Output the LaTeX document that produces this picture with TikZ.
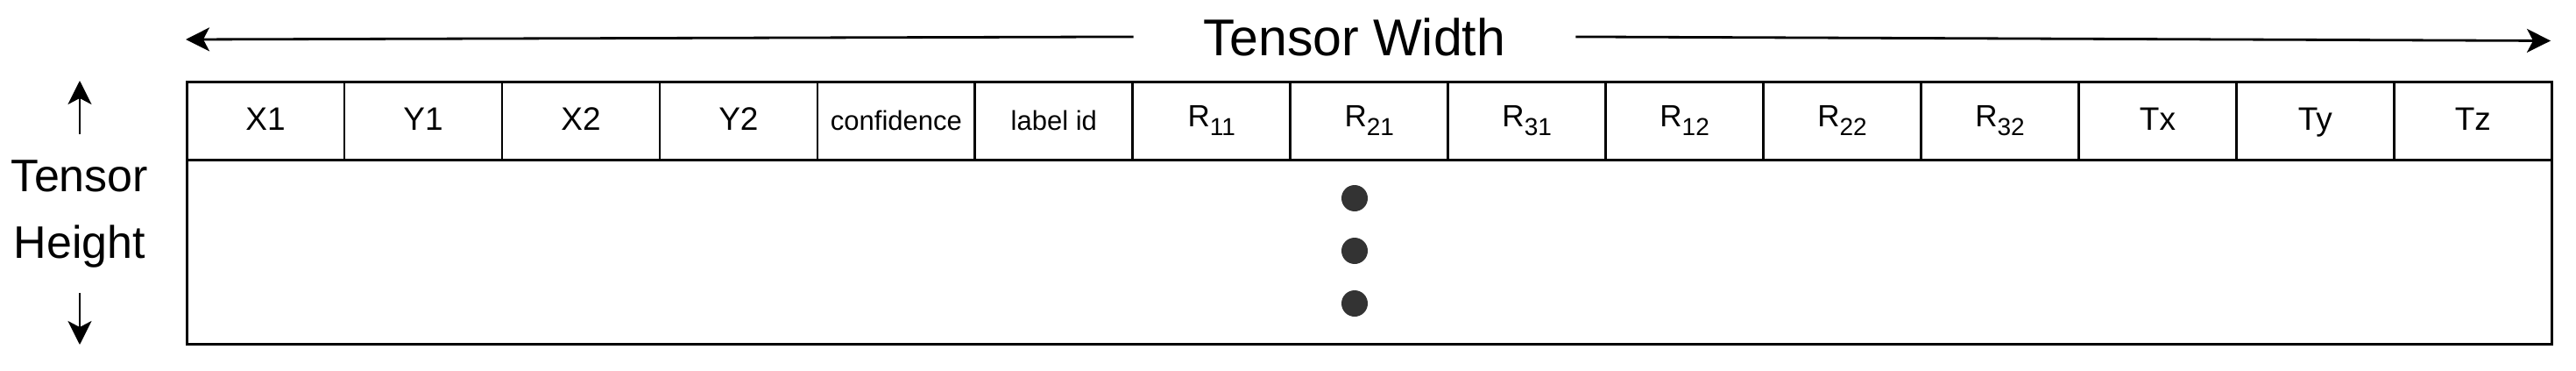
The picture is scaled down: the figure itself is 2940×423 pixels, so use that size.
\documentclass[tikz,border=0pt]{standalone}
\usepackage{fontspec}
\setmainfont{Liberation Sans}
\usetikzlibrary{arrows.meta}
\definecolor{dotgray}{HTML}{333333}
\tikzset{
  cellbox/.style={draw=black, line width=2.8pt, rectangle, minimum width=179.95pt, minimum height=89.3pt, inner sep=0pt, anchor=north west, text height=26pt, text depth=4.7pt, font=\fontsize{37}{44}\selectfont},
  smallcell/.style={cellbox, font=\fontsize{31}{37}\selectfont},
  bodybox/.style={draw=black, line width=2.8pt, rectangle, minimum width=2699.3pt, minimum height=209.7pt, inner sep=0pt, anchor=north west},
  dotnode/.style={circle, fill=dotgray, minimum size=30pt, inner sep=0pt},
  arr/.style={line width=2.8pt, -{Stealth[length=27pt,width=27pt,inset=7pt]}},
  twstyle/.style={font=\fontsize{59}{70}\selectfont, inner xsep=80pt, inner ysep=0pt, anchor=base},
  sidelabel/.style={font=\fontsize{52}{62}\selectfont, inner xsep=0pt, inner ysep=29pt, anchor=base},
}
\newcommand{\Rsub}[1]{\raisebox{4pt}{\fontsize{35}{42}\selectfont R\raisebox{-10pt}{\fontsize{28}{34}\selectfont #1}}}
\begin{document}
\begin{tikzpicture}[x=1pt,y=-1pt]
\useasboundingbox (0,0) rectangle (2940,423);
% body of the tensor
\node[bodybox] (body) at (211.7,181) {};
% header cells
\node[cellbox]   (c1)  at (211.7,91.7)   {X1};
\node[cellbox]   (c2)  at (391.65,91.7)  {Y1};
\node[cellbox]   (c3)  at (571.6,91.7)   {X2};
\node[cellbox]   (c4)  at (751.55,91.7)  {Y2};
\node[smallcell] (c5)  at (931.5,91.7)   {confidence};
\node[smallcell] (c6)  at (1111.45,91.7) {label id};
\node[cellbox]   (c7)  at (1291.4,91.7)  {\Rsub{11}};
\node[cellbox]   (c8)  at (1471.35,91.7) {\Rsub{21}};
\node[cellbox]   (c9)  at (1651.3,91.7)  {\Rsub{31}};
\node[cellbox]   (c10) at (1831.25,91.7) {\Rsub{12}};
\node[cellbox]   (c11) at (2011.2,91.7)  {\Rsub{22}};
\node[cellbox]   (c12) at (2191.15,91.7) {\Rsub{32}};
\node[cellbox]   (c13) at (2371.1,91.7)  {Tx};
\node[cellbox]   (c14) at (2551.05,91.7) {Ty};
\node[cellbox]   (c15) at (2731.0,91.7)  {Tz};
% dots
\node[dotnode] (d1) at (1546,226) {};
\node[dotnode] (d2) at (1546,286) {};
\node[dotnode] (d3) at (1546,346) {};
% width label and arrows
\node[twstyle] (tw) at (1546,63) {Tensor Width};
\coordinate (wl) at (212,45);
\coordinate (wr) at (2911,46.5);
\draw[arr] (tw.west) -- (wl);
\draw[arr] (tw.east) -- (wr);
% height label and arrows
\node[sidelabel] (tn) at (91,218) {Tensor};
\node[sidelabel] (hn) at (91,294) {Height};
\coordinate (hu) at (91,92);
\coordinate (hd) at (91,393);
\draw[arr] (tn.north) -- (hu);
\draw[arr] (hn.south) -- (hd);
\end{tikzpicture}
\end{document}
